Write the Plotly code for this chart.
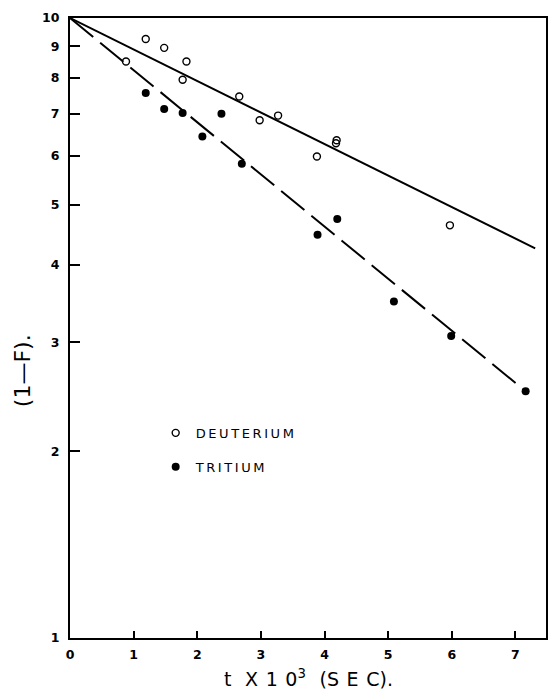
import plotly.graph_objects as go

# Data
deut_t = [0.88, 1.19, 1.48, 1.77, 1.83, 2.66, 2.98, 3.27, 3.88, 4.18, 4.19, 5.97]
deut_f = [8.51, 9.25, 8.95, 7.95, 8.51, 7.47, 6.84, 6.96, 5.98, 6.28, 6.35, 4.63]

trit_t = [1.19, 1.48, 1.77, 2.08, 2.38, 2.70, 3.89, 4.20, 5.09, 5.99, 7.16]
trit_f = [7.57, 7.13, 7.03, 6.44, 7.01, 5.82, 4.47, 4.74, 3.49, 3.07, 2.50]

deut_fit_t = [0.0, 7.31]
deut_fit_f = [10.0, 4.25]
trit_fit_t = [0.0, 7.16]
trit_fit_f = [10.0, 2.50]

x_ticks = [0, 1, 2, 3, 4, 5, 6, 7]
y_ticks = [1, 2, 3, 4, 5, 6, 7, 8, 9, 10]
y_tick_text = ["1", "2", "3", "4", "5", "6", "7", "8", "9", "10"]

FONT = "DejaVu Sans"
TS = "\u2009"  # thin space for the wide letter spacing of the original lettering


def spaced(s, sep=TS):
    return sep.join(list(s))


fig = go.Figure()
fig.add_trace(go.Scatter(x=deut_fit_t, y=deut_fit_f, mode="lines",
                         line=dict(color="black", width=2), showlegend=False))
fig.add_trace(go.Scatter(x=trit_fit_t, y=trit_fit_f, mode="lines",
                         line=dict(color="black", width=2, dash="30px,9px"), showlegend=False))
fig.add_trace(go.Scatter(x=deut_t, y=deut_f, mode="markers", name=spaced("DEUTERIUM"),
                         legendgroup="d",
                         marker=dict(symbol="circle-open", size=7, color="black",
                                     line=dict(width=1.4, color="black"))))
fig.add_trace(go.Scatter(x=trit_t, y=trit_f, mode="markers", name=spaced("TRITIUM"),
                         legendgroup="t",
                         marker=dict(symbol="circle", size=8, color="black")))

axis_common = dict(showgrid=False, zeroline=False, showline=True, linecolor="black",
                   linewidth=2.2, mirror=True, ticks="inside", tickcolor="black",
                   tickwidth=1.5)

fig.update_xaxes(range=[0, 7.48], tickvals=x_ticks, ticklen=7, ticklabelstandoff=4,
                 tickfont=dict(family=FONT, size=12.5, color="black", weight="bold"),
                 **axis_common)
fig.update_yaxes(type="log", range=[0, 1], tickvals=y_ticks, ticktext=y_tick_text,
                 ticklen=10, ticklabelstandoff=6,
                 tickfont=dict(family=FONT, size=12.5, color="black", weight="bold"),
                 **axis_common)

fig.add_annotation(text="(1—F).", xref="paper", yref="paper",
                   x=-0.1, y=0.431, xanchor="center", yanchor="middle",
                   textangle=-90, showarrow=False,
                   font=dict(family=FONT, size=22, color="black"))
TT = TS + TS
fig.add_annotation(text="t" + TT + " X" + TT + "1" + TT + "0<sup>3</sup>" + TT + " (" + spaced("SEC", TT) + ").",
                   xref="paper", yref="paper",
                   x=0.502, y=-0.0645, showarrow=False, xanchor="center", yanchor="middle",
                   font=dict(family=FONT, size=19, color="black"))

fig.update_layout(
    width=549, height=697,
    margin=dict(l=70, r=1, t=18, b=59),
    plot_bgcolor="white", paper_bgcolor="white",
    legend=dict(x=0.18, y=0.355, xanchor="left", yanchor="top",
                bgcolor="rgba(0,0,0,0)", tracegroupgap=14,
                font=dict(family=FONT, size=13, color="black")),
)

# remove the default page margin so the figure fills the window exactly
fig.write_html("out.html",
               config={"displayModeBar": False},
               post_script="document.body.style.margin='0';"
                           "document.documentElement.style.overflow='hidden';"
                           "document.body.style.overflow='hidden';")
